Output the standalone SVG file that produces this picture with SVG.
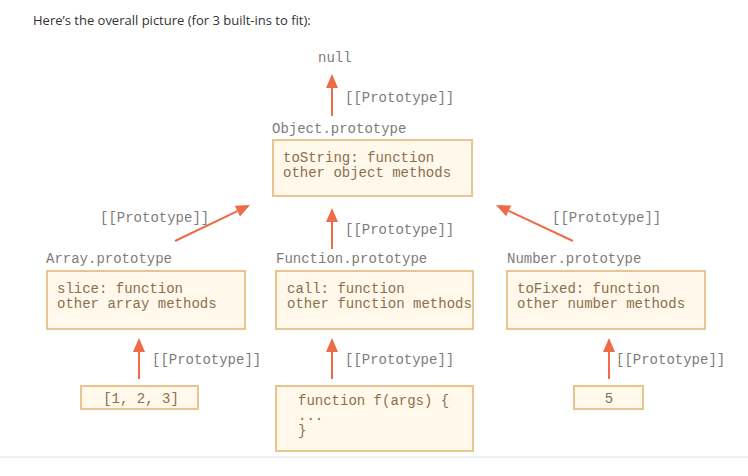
<svg xmlns="http://www.w3.org/2000/svg" width="748" height="476" viewBox="0 0 748 476">
  <style>
    .intro { font-family: "Open Sans", "Liberation Sans", sans-serif; font-size: 13px; fill: #333333; }
    .mono { font-family: "Liberation Mono", "DejaVu Sans Mono", monospace; font-size: 14px; }
    .label { fill: #7e7c7b; }
    .code { fill: #8a704d; }
    .box { fill: #fff8eb; stroke: #e8c48e; stroke-width: 2; }
    .link { stroke: #ee6b47; stroke-width: 2; fill: none; marker-end: url(#head); }
  </style>
  <defs>
    <marker id="head" markerUnits="userSpaceOnUse" markerWidth="16" markerHeight="14" refX="0" refY="7" orient="auto" viewBox="0 0 16 14" overflow="visible">
      <path d="M0,1 L14,7 L0,13 z" fill="#ee6b47"/>
    </marker>
  </defs>

  <rect width="748" height="476" fill="#ffffff"/>
  <text class="intro" x="33" y="25">Here’s the overall picture (for 3 built-ins to fit):</text>

  <g id="null">
    <text class="mono label" x="318" y="62">null</text>
  </g>

  <g id="object-prototype">
    <text class="mono label" x="272" y="133">Object.prototype</text>
    <rect class="box" x="273" y="140" width="199" height="56"/>
    <text class="mono code" x="283" y="162">toString: function</text>
    <text class="mono code" x="283" y="177">other object methods</text>
  </g>

  <g id="array-prototype">
    <text class="mono label" x="46" y="263">Array.prototype</text>
    <rect class="box" x="47" y="271" width="198" height="58"/>
    <text class="mono code" x="57" y="293">slice: function</text>
    <text class="mono code" x="57" y="308">other array methods</text>
  </g>

  <g id="function-prototype">
    <text class="mono label" x="276" y="263">Function.prototype</text>
    <rect class="box" x="276" y="271" width="197" height="58"/>
    <text class="mono code" x="287" y="293">call: function</text>
    <text class="mono code" x="287" y="308">other function methods</text>
  </g>

  <g id="number-prototype">
    <text class="mono label" x="507" y="263">Number.prototype</text>
    <rect class="box" x="507" y="271" width="198" height="58"/>
    <text class="mono code" x="517" y="293">toFixed: function</text>
    <text class="mono code" x="517" y="308">other number methods</text>
  </g>

  <g id="array-instance">
    <rect class="box" x="81" y="386" width="117" height="23"/>
    <text class="mono code" x="141" y="403" text-anchor="middle">[1, 2, 3]</text>
  </g>

  <g id="function-instance">
    <rect class="box" x="276" y="386" width="197" height="65"/>
    <text class="mono code" x="298" y="405">function f(args) {</text>
    <text class="mono code" x="298" y="420">...</text>
    <text class="mono code" x="298" y="435">}</text>
  </g>

  <g id="number-instance">
    <rect class="box" x="574" y="386" width="69" height="23"/>
    <text class="mono code" x="609" y="403" text-anchor="middle">5</text>
  </g>

  <g id="connectors">
    <line class="link" x1="332" y1="116" x2="332" y2="88"/>
    <text class="mono label" x="345" y="102">[[Prototype]]</text>

    <line class="link" x1="175" y1="241" x2="237.4" y2="211.1"/>
    <text class="mono label" x="100" y="222">[[Prototype]]</text>

    <line class="link" x1="332" y1="249" x2="332" y2="222"/>
    <text class="mono label" x="345" y="234">[[Prototype]]</text>

    <line class="link" x1="573" y1="241" x2="508.7" y2="210.9"/>
    <text class="mono label" x="552" y="222">[[Prototype]]</text>

    <line class="link" x1="139" y1="379" x2="139" y2="352"/>
    <text class="mono label" x="152" y="364">[[Prototype]]</text>

    <line class="link" x1="332" y1="379" x2="332" y2="352"/>
    <text class="mono label" x="345" y="364">[[Prototype]]</text>

    <line class="link" x1="609" y1="379" x2="609" y2="352"/>
    <text class="mono label" x="616" y="364">[[Prototype]]</text>
  </g>

  <line x1="0" y1="457" x2="748" y2="457" stroke="#e2e2e2" stroke-width="1"/>
</svg>
